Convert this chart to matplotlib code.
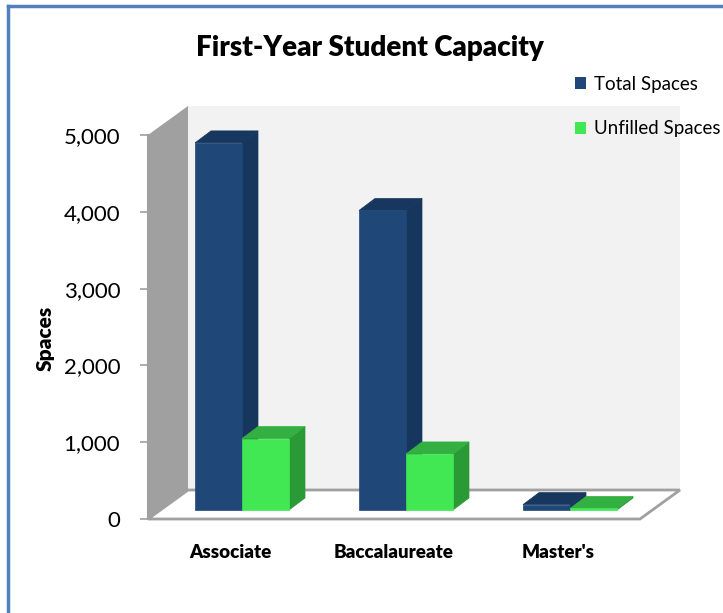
import matplotlib
matplotlib.use('Agg')
import matplotlib.pyplot as plt
from matplotlib.patches import Polygon, Patch
from matplotlib.lines import Line2D

plt.rcParams['font.family'] = ['Lato', 'DejaVu Sans']

categories = ['Associate', 'Baccalaureate', "Master's"]
total_spaces = [4780, 3900, 70]
unfilled_spaces = [930, 730, 20]
yticks = [0, 1000, 2000, 3000, 4000, 5000]
yticklabels = ['0', '1,000', '2,000', '3,000', '4,000', '5,000']

W, H = 723, 613
fig = plt.figure(figsize=(W / 100, H / 100), dpi=100)
# front plane of the 3d box, in pixels: x 148..640, y 519 (0) .. 135 (5000)
ax = fig.add_axes([148 / W, 1 - 519 / H, 492 / W, 384 / H])
ax.set_xlim(0, 3)
ax.set_ylim(0, 5000)
ax.patch.set_visible(False)

px_x = 3 / 492.0
px_y = 5000 / 384.0
DX, DY = 40 * px_x, 29 * px_y      # full depth of the box
OX, OY = 12 * px_x, 9 * px_y       # bar plane offset
BX, BY = 16 * px_x, 12 * px_y      # bar depth
bw = 47 * px_x

grey = '#a0a0a0'
# back wall
ax.add_patch(Polygon([(DX, DY), (3 + DX, DY), (3 + DX, 5000 + DY), (DX, 5000 + DY)],
                     closed=True, fc='#f2f2f2', ec='none', clip_on=False, zorder=0))
# side wall
ax.add_patch(Polygon([(0, 0), (DX, DY), (DX, 5000 + DY), (0, 5000)],
                     closed=True, fc=grey, ec='none', clip_on=False, zorder=1))
# floor
ax.add_patch(Polygon([(0, 0), (3, 0), (3 + DX, DY), (DX, DY)],
                     closed=True, fc='white', ec=grey, lw=2, clip_on=False, zorder=1))

series = [
    (total_spaces, -bw, '#1f4778', '#17365d', '#17375e'),
    (unfilled_spaces, 0.0, '#41e853', '#2a9a37', '#33b041'),
]
z = 2
for i in range(len(categories)):
    for vals, shift, cf, cs, ct in series:
        v = vals[i]
        x0 = i + 0.5 + shift + OX
        x1 = x0 + bw
        ax.add_patch(Polygon([(x1, OY), (x1 + BX, OY + BY), (x1 + BX, v + OY + BY), (x1, v + OY)],
                             closed=True, fc=cs, ec=cs, lw=0.5, clip_on=False, zorder=z))
        ax.add_patch(Polygon([(x0, v + OY), (x1, v + OY), (x1 + BX, v + OY + BY), (x0 + BX, v + OY + BY)],
                             closed=True, fc=ct, ec=ct, lw=0.5, clip_on=False, zorder=z))
        ax.bar(x0, v, width=bw, bottom=OY, align='edge', color=cf, edgecolor=cf, lw=0.5,
               clip_on=False, zorder=z)
        z += 1

for s in ['top', 'right', 'bottom']:
    ax.spines[s].set_visible(False)
ax.spines['left'].set_color(grey)
ax.spines['left'].set_linewidth(1.5)
ax.set_yticks(yticks)
ax.set_yticklabels(yticklabels, fontsize=16)
ax.tick_params(axis='y', length=6, width=1.2, color=grey, pad=14)
ax.set_xticks([0.5, 1.5, 2.5])
ax.set_xticklabels(categories, fontsize=13.5, fontweight='heavy')
ax.tick_params(axis='x', length=0, pad=18)
ax.set_ylabel('Spaces', fontsize=15, fontweight='heavy')
ax.yaxis.set_label_coords(-0.19, 0.47)

fig.text(370 / W, 1 - 48 / H, 'First-Year Student Capacity', fontsize=20, fontweight='heavy',
         ha='center', va='center')

handles = [Patch(fc='#1f4778', ec='none'), Patch(fc='#41e853', ec='none')]
fig.legend(handles, ['Total Spaces', 'Unfilled Spaces'], loc='upper left',
           bbox_to_anchor=(575 / W, 1 - 76 / H), frameon=False, fontsize=13.5,
           borderpad=0, borderaxespad=0,
           handlelength=0.6, handleheight=0.6, handletextpad=0.4, labelspacing=1.45)

# frame lines of the chart area
fig.add_artist(Line2D([8 / W, 8 / W], [0, 1 - 6 / H], color='#4f81bd', lw=2.5))
fig.add_artist(Line2D([8 / W, 1], [1 - 6 / H, 1 - 6 / H], color='#4f81bd', lw=2.5))

fig.savefig('out.png', dpi=100)
